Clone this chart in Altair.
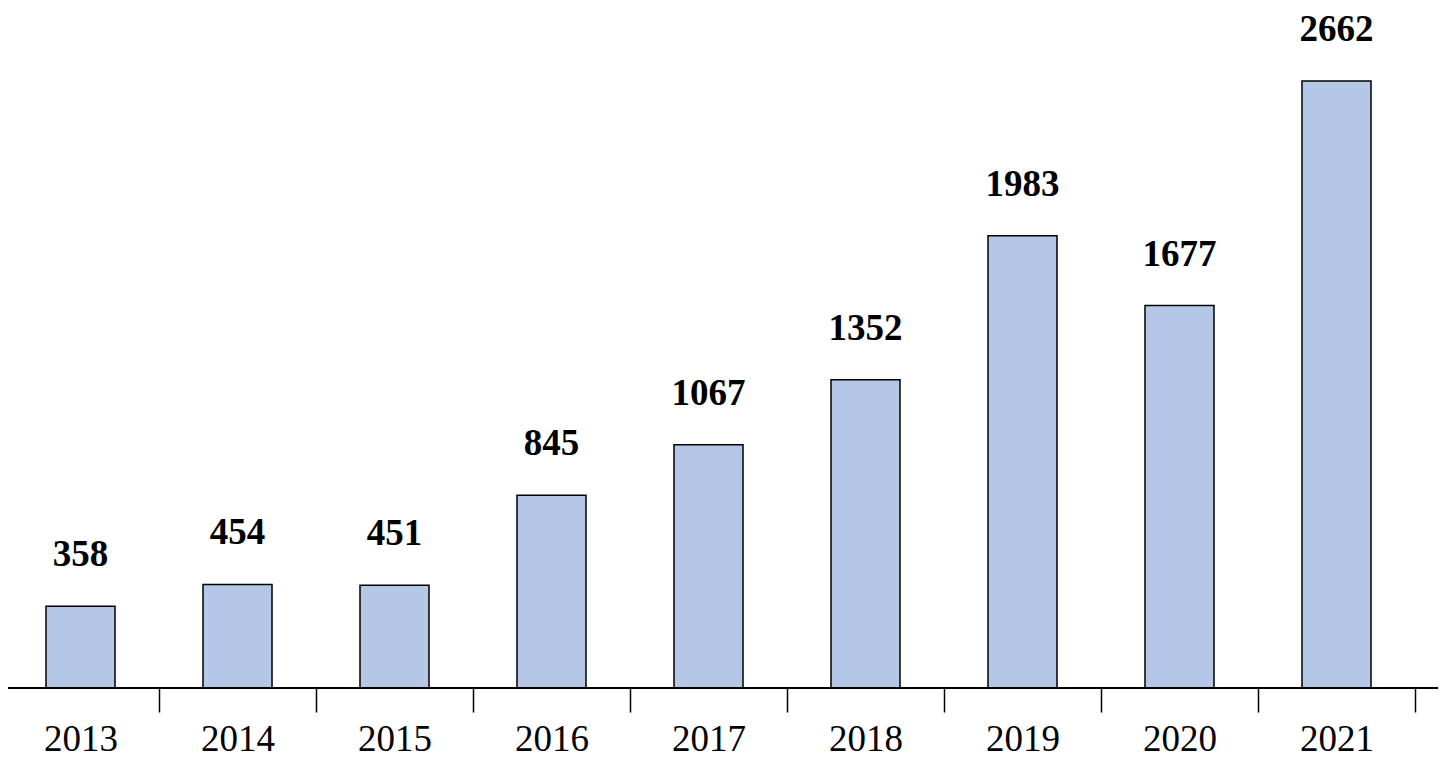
import altair as alt
import pandas as pd

years = ["2013", "2014", "2015", "2016", "2017", "2018", "2019", "2020", "2021"]
values = [358, 454, 451, 845, 1067, 1352, 1983, 1677, 2662]

df = pd.DataFrame({"year": years, "value": values})

FONT = "Liberation Serif"

x = alt.X(
    "year:N",
    sort=years,
    title=None,
    scale=alt.Scale(range=[-6, 1407], paddingInner=0, paddingOuter=0),
    axis=alt.Axis(
        domain=False,
        ticks=True,
        tickBand="extent",
        tickSize=24,
        tickWidth=1.5,
        tickColor="black",
        labelAngle=0,
        labelFont=FONT,
        labelFontSize=37,
        labelColor="black",
        labelBaseline="alphabetic",
        labelPadding=38,
        grid=False,
    ),
)
y = alt.Y(
    "value:Q",
    title=None,
    scale=alt.Scale(domain=[0, 2982], nice=False, zero=True),
    axis=None,
)

base = alt.Chart(df)

bars = base.mark_bar(
    color="#B4C7E7", stroke="black", strokeWidth=1.5, width=69
).encode(x=x, y=y)

labels = base.mark_text(
    font=FONT, fontSize=37, fontWeight="bold", color="black",
    baseline="alphabetic", dy=-40,
).encode(x=x, y=y, text="value:Q")

baseline = alt.Chart(df).mark_rule(color="black", strokeWidth=1.5).encode(
    x=alt.value(-8), x2=alt.value(1438), y=alt.value(680)
)

chart = (
    alt.layer(bars, labels, baseline)
    .properties(
        width=1430,
        height=680,
        autosize=alt.AutoSizeParams(type="none"),
        padding={"left": 0, "top": 0, "right": 0, "bottom": 82},
    )
    .configure_view(stroke=None, strokeWidth=0, fill=None)
)

chart.save("out.html", embed_options={"renderer": "svg", "actions": False})
